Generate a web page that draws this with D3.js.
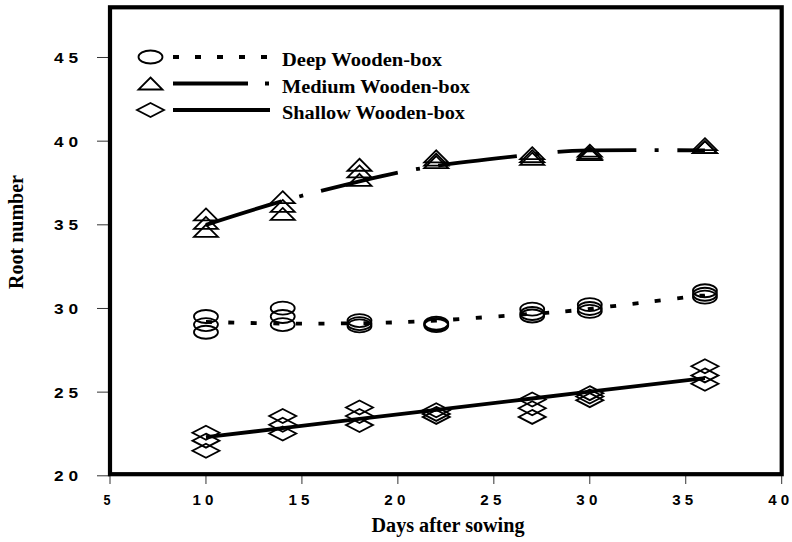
<!DOCTYPE html>
<html>
<head>
<meta charset="utf-8">
<script src="https://cdn.jsdelivr.net/npm/d3@7"></script>
<style>
  html, body { margin: 0; padding: 0; background: #fff; }
  svg { display: block; }
</style>
</head>
<body>
<svg id="chart" width="792" height="542"></svg>
<script>
// ---------------- data ----------------
const days = [10, 14, 18, 22, 27, 30, 36];

const deepRep1 = [29.52, 30.02, 29.28, 29.12, 29.96, 30.23, 31.06];
const deepRep2 = [29.04, 29.52, 29.10, 29.05, 29.70, 30.00, 30.85];
const deepRep3 = [28.58, 29.04, 28.96, 28.98, 29.55, 29.83, 30.68];
const deepFit  = [29.20, 29.10, 29.12, 29.28, 29.68, 29.98, 30.80];

const mediumRep1 = [35.62, 36.65, 38.59, 39.09, 39.28, 39.43, 39.82];
const mediumRep2 = [35.12, 36.13, 38.19, 38.90, 39.10, 39.30, 39.64];
const mediumRep3 = [34.64, 35.65, 37.69, 38.75, 38.95, 39.23, 39.64];
const mediumFit  = [35.00, 36.42, 37.60, 38.52, 39.20, 39.45, 39.45];

const shallowRep1 = [22.57, 23.57, 24.08, 23.92, 24.56, 24.94, 26.55];
const shallowRep2 = [22.10, 23.05, 23.57, 23.70, 24.04, 24.74, 26.00];
const shallowRep3 = [21.50, 22.53, 23.03, 23.52, 23.52, 24.52, 25.50];
const shallowFit  = [22.31, 22.85, 23.40, 23.94, 24.62, 25.03, 25.84];

const seriesNames = ["Deep Wooden-box", "Medium Wooden-box", "Shallow Wooden-box"];

const xTicks = [5, 10, 15, 20, 25, 30, 35, 40];
const xTickLabels = ["5", "1 0", "1 5", "2 0", "2 5", "3 0", "3 5", "4 0"];
const yTicks = [20, 25, 30, 35, 40, 45];
const yTickLabels = ["2 0", "2 5", "3 0", "3 5", "4 0", "4 5"];

const xTitle = "Days after sowing";
const yTitle = "Root number";

// ---------------- drawing ----------------
const svg = d3.select("#chart");
const serif = "'Liberation Serif','Times New Roman',serif";
const sans = "'Liberation Sans',Arial,sans-serif";

const x = d3.scaleLinear().domain([5, 40]).range([110, 781.7]);
const y = d3.scaleLinear().domain([20, 48]).range([475.8, 7.3]);

// marker shapes (centered)
function ellipsePath(cx, cy) {
  const rx = 12, ry = 6.5;
  return `M${cx - rx},${cy} A${rx},${ry} 0 1,0 ${cx + rx},${cy} A${rx},${ry} 0 1,0 ${cx - rx},${cy} Z`;
}
function trianglePath(cx, cy) {
  const w = 24, h = 12;
  return `M${cx},${cy - h / 2} L${cx + w / 2},${cy + h / 2} L${cx - w / 2},${cy + h / 2} Z`;
}
function diamondPath(cx, cy) {
  const w = 27, h = 14;
  return `M${cx},${cy - h / 2} L${cx + w / 2},${cy} L${cx},${cy + h / 2} L${cx - w / 2},${cy} Z`;
}

const series = [
  { reps: [deepRep1, deepRep2, deepRep3], fit: deepFit, shape: ellipsePath,
    dash: "6,16.5", legDash: "6,16", curve: d3.curveNatural },
  { reps: [mediumRep1, mediumRep2, mediumRep3], fit: mediumFit, shape: trianglePath,
    dash: "79,18.5,4,18.5", legDash: "75,17,4,17", curve: d3.curveNatural },
  { reps: [shallowRep1, shallowRep2, shallowRep3], fit: shallowFit, shape: diamondPath,
    dash: null, legDash: null, curve: d3.curveLinear }
];

// ticks
const tickG = svg.append("g");
tickG.selectAll("line.yt").data(yTicks).join("line")
  .attr("x1", 97).attr("x2", 110)
  .attr("y1", d => y(d)).attr("y2", d => y(d))
  .attr("stroke", "#333").attr("stroke-width", 1);
tickG.selectAll("line.xt").data(xTicks).join("line")
  .attr("x1", d => x(d)).attr("x2", d => x(d))
  .attr("y1", 474).attr("y2", 484)
  .attr("stroke", "#333").attr("stroke-width", 1);

// tick labels
svg.append("g").selectAll("text").data(yTicks).join("text")
  .attr("x", 78).attr("y", d => y(d)).attr("dy", "0.36em")
  .attr("text-anchor", "end")
  .attr("font-family", sans).attr("font-weight", "bold").attr("font-size", 15)
  .attr("textLength", 24).attr("lengthAdjust", "spacingAndGlyphs")
  .text((d, i) => yTickLabels[i]);

svg.append("g").selectAll("text").data(xTicks).join("text")
  .attr("x", d => x(d) - 3).attr("y", 505)
  .attr("text-anchor", "middle")
  .attr("font-family", sans).attr("font-weight", "bold").attr("font-size", 14)
  .each(function (d, i) {
    const lab = xTickLabels[i];
    const t = d3.select(this).text(lab);
    t.attr("textLength", lab.length > 1 ? 21 : 7).attr("lengthAdjust", "spacingAndGlyphs");
  });

// markers
const markG = svg.append("g");
series.forEach(s => {
  s.reps.forEach(rep => {
    markG.append("g").selectAll("path").data(days).join("path")
      .attr("d", (d, i) => s.shape(x(d), y(rep[i])))
      .attr("fill", "none").attr("stroke", "#000").attr("stroke-width", 1.8);
  });
});

// fitted lines
const lineG = svg.append("g");
series.forEach(s => {
  const gen = d3.line().x((d, i) => x(days[i])).y(d => y(d)).curve(s.curve);
  lineG.append("path")
    .attr("d", gen(s.fit))
    .attr("fill", "none").attr("stroke", "#000").attr("stroke-width", 3.8)
    .attr("stroke-dasharray", s.dash);
});

// frame
svg.append("rect")
  .attr("x", x(5)).attr("y", 7.3)
  .attr("width", x(40) - x(5)).attr("height", 474.2 - 7.3)
  .attr("fill", "none").attr("stroke", "#000").attr("stroke-width", 4.2);

// legend
const legRows = [57, 83.5, 110];
const legG = svg.append("g");
series.forEach((s, i) => {
  legG.append("path").attr("d", s.shape(150.5, legRows[i]))
    .attr("fill", "none").attr("stroke", "#000").attr("stroke-width", 1.8);
  legG.append("line")
    .attr("x1", 173).attr("x2", 270).attr("y1", legRows[i]).attr("y2", legRows[i])
    .attr("stroke", "#000").attr("stroke-width", 3.8)
    .attr("stroke-dasharray", s.legDash);
  legG.append("text")
    .attr("x", 282).attr("y", legRows[i] + 9)
    .attr("font-family", serif).attr("font-weight", "bold").attr("font-size", 18.5)
    .attr("textLength", [160, 188, 183][i]).attr("lengthAdjust", "spacingAndGlyphs")
    .text(seriesNames[i]);
});

// axis titles
svg.append("text")
  .attr("x", 448).attr("y", 532)
  .attr("text-anchor", "middle")
  .attr("font-family", serif).attr("font-weight", "bold").attr("font-size", 20)
  .attr("textLength", 153).attr("lengthAdjust", "spacingAndGlyphs")
  .text(xTitle);

svg.append("text")
  .attr("transform", "translate(23,232) rotate(-90)")
  .attr("text-anchor", "middle")
  .attr("font-family", serif).attr("font-weight", "bold").attr("font-size", 20)
  .text(yTitle);
</script>
</body>
</html>
